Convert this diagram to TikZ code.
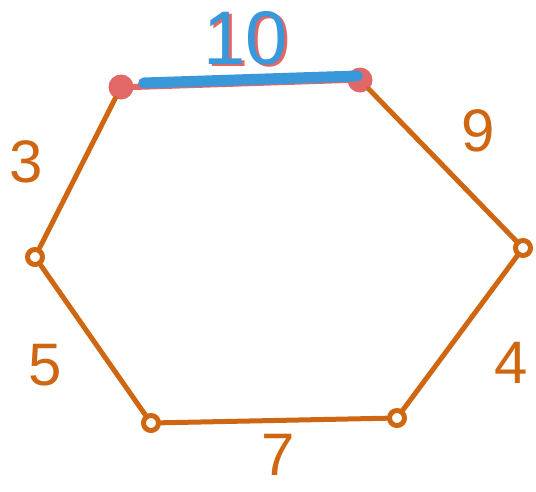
\documentclass[tikz,border=0pt]{standalone}
\usepackage{fontspec}
\setmainfont{Liberation Sans}
\usepackage{xcolor}
\definecolor{edgeOrange}{RGB}{206,102,18}
\definecolor{pickRed}{RGB}{226,104,104}
\definecolor{pathBlue}{RGB}{56,152,218}

\begin{document}
\begin{tikzpicture}[
    x=1pt, y=-1pt,
    vert/.style={circle, draw=edgeOrange, line width=5pt, inner sep=0pt, minimum size=15pt},
    vertsel/.style={circle, fill=pickRed, inner sep=0pt, minimum size=25pt},
    wt/.style={text=edgeOrange, font=\fontsize{60}{60}\selectfont},
    edge/.style={draw=edgeOrange, line width=5pt, line cap=round}
]
\useasboundingbox (0,0) rectangle (536,491);

\node[vertsel] (tl) at (121,87) {};
\node[vertsel] (tr) at (360,80) {};
\node[vert] (r) at (523,248) {};
\node[vert] (br) at (397,418) {};
\node[vert] (bl) at (151,423) {};
\node[vert] (l) at (35,257) {};

\draw[edge] (tr) -- (r);
\draw[edge] (r) -- (br);
\draw[edge] (br) -- (bl);
\draw[edge] (bl) -- (l);
\draw[edge] (l) -- (tl);
\draw[line width=6pt, pickRed, line cap=round] (tl.east) -- (tr.west);
\draw[line width=11pt, pathBlue, line cap=round] ([xshift=10pt,yshift=4pt]tl.east) -- ([xshift=10pt,yshift=4pt]tr.west);

\node[wt] (w3) at (26,162) {3};
\node[wt] (w5) at (45,365) {5};
\node[wt] (w9) at (478,131) {9};
\node[wt] (w4) at (511,363) {4};
\node[wt] (w7) at (278,455) {7};
\node[wt, text=pickRed, font=\fontsize{76}{76}\selectfont] (w10r) at (249,40) {10};
\node[wt, text=pathBlue, font=\fontsize{76}{76}\selectfont] (w10) at (246,38) {10};
\end{tikzpicture}
\end{document}
